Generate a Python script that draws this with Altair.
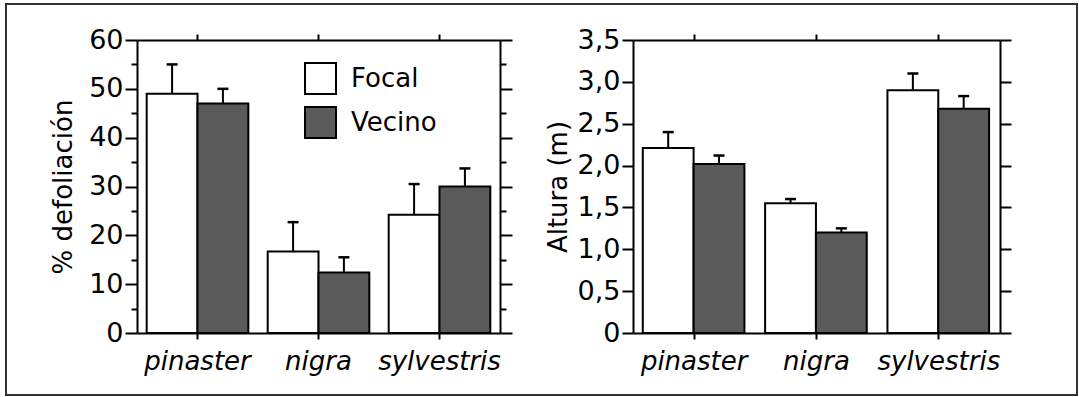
import altair as alt
import pandas as pd

especies = ["pinaster", "nigra", "sylvestris"]
grupos = ["Focal", "Vecino"]

# % defoliación
defol_focal = [49.0, 16.7, 24.2]
defol_focal_err = [6.0, 6.0, 6.3]
defol_vecino = [47.0, 12.4, 30.0]
defol_vecino_err = [3.0, 3.1, 3.7]

# Altura (m)
alt_focal = [2.21, 1.55, 2.90]
alt_focal_err = [0.19, 0.05, 0.20]
alt_vecino = [2.02, 1.20, 2.68]
alt_vecino_err = [0.10, 0.05, 0.15]

FONT = "DejaVu Sans"


def build_df(f, fe, v, ve):
    rows = []
    for i, sp in enumerate(especies):
        rows.append({"especie": sp, "grupo": "Focal", "valor": f[i], "sup": f[i] + fe[i]})
        rows.append({"especie": sp, "grupo": "Vecino", "valor": v[i], "sup": v[i] + ve[i]})
    return pd.DataFrame(rows)


def panel(df, domain, values, label_expr, title, width, minor, legend, border, title_pad):
    base = alt.Chart(df)
    xscale = alt.Scale(paddingInner=0.16, paddingOuter=0.08)
    xoff = alt.XOffset("grupo:N", sort=grupos, scale=alt.Scale(paddingInner=0, paddingOuter=0))
    yscale = alt.Scale(domain=domain, nice=False, zero=True)
    if minor:
        tick_size = {"condition": {"test": "datum.value % 10 != 0", "value": 6}, "value": 12}
    else:
        tick_size = 11

    bottom_axis = alt.Axis(orient="bottom", title=None, labelAngle=0, labelFontStyle="italic",
                           labelFontSize=26, labelFont=FONT, labelColor="black",
                           tickSize=6, labelPadding=9, domainWidth=2, tickWidth=2)
    top_axis = alt.Axis(orient="top", title=None, labels=False, tickSize=6,
                        domainWidth=2, tickWidth=2)
    left_axis = alt.Axis(orient="left", values=values, labelExpr=label_expr, title=title,
                         tickSize=tick_size, labelFontSize=27, labelFont=FONT, labelColor="black",
                         labelPadding=2, titleFontSize=26, titleFont=FONT, titleFontWeight="normal",
                         titleColor="black", titlePadding=title_pad, domainWidth=2, tickWidth=2)
    right_axis = alt.Axis(orient="right", values=values, labels=False, title=None,
                          tickSize=tick_size, domainWidth=2, tickWidth=2)

    if legend:
        leg = alt.Legend(orient="none", legendX=167, legendY=22, title=None, symbolType="square",
                         symbolSize=961, symbolStrokeColor="black", symbolStrokeWidth=2,
                         labelFontSize=26, labelFont=FONT, labelColor="black", rowPadding=5,
                         labelOffset=14, padding=0, symbolOpacity=1)
    else:
        leg = None

    bars = base.mark_bar(stroke="black", strokeWidth=2, opacity=1).encode(
        x=alt.X("especie:N", sort=especies, scale=xscale, axis=bottom_axis),
        xOffset=xoff,
        y=alt.Y("valor:Q", scale=yscale, axis=left_axis),
        color=alt.Color("grupo:N", sort=grupos,
                        scale=alt.Scale(domain=grupos, range=["white", "#5a5a5a"]),
                        legend=leg),
    )
    stems = base.mark_rule(color="black", strokeWidth=2).encode(
        x=alt.X("especie:N", sort=especies, scale=xscale, axis=None),
        xOffset=xoff,
        y=alt.Y("valor:Q", scale=yscale, axis=None),
        y2="sup:Q",
    )
    caps = base.mark_tick(color="black", orient="horizontal", size=11, thickness=2.5, opacity=1).encode(
        x=alt.X("especie:N", sort=especies, scale=xscale, axis=top_axis),
        xOffset=xoff,
        y=alt.Y("sup:Q", scale=yscale, axis=right_axis),
    )
    layers = [bars, stems, caps]
    if border:
        frame = alt.Chart(pd.DataFrame({"k": [0]})).mark_rect(
            filled=False, stroke="#333333", strokeWidth=2
        ).encode(x=alt.value(-131), x2=alt.value(940), y=alt.value(-36), y2=alt.value(355))
        layers = [frame] + layers
    return alt.layer(*layers).resolve_axis(x="independent", y="independent").properties(
        width=width, height=293
    )


df_def = build_df(defol_focal, defol_focal_err, defol_vecino, defol_vecino_err)
df_alt = build_df(alt_focal, alt_focal_err, alt_vecino, alt_vecino_err)

left = panel(df_def, [0, 60], list(range(0, 61, 5)),
             "datum.value % 10 == 0 ? datum.value : ''",
             "% defoliación", 363, True, True, True, 12)
right = panel(df_alt, [0, 3.5], [0, 0.5, 1.0, 1.5, 2.0, 2.5, 3.0, 3.5],
              "datum.value == 0 ? '0' : replace(format(datum.value, '.1f'), '.', ',')",
              "Altura (m)", 367, False, False, False, 6)

chart = alt.hconcat(left, right, spacing=133, bounds="flush").resolve_scale(
    color="independent"
).resolve_legend(color="independent").properties(
    padding={"left": 5, "top": 3, "right": 0, "bottom": 0}
).configure_view(strokeWidth=0).configure_axis(
    grid=False, domainColor="black", tickColor="black"
)

chart.save("out.html", embed_options={"renderer": "svg", "actions": False})
